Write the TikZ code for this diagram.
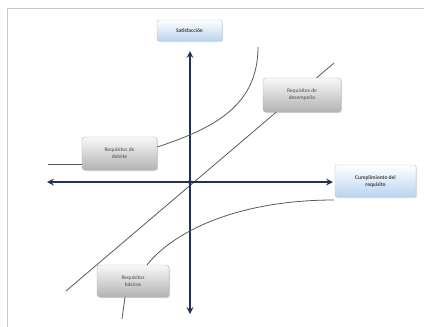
\documentclass[tikz,border=0pt]{standalone}
\usepackage{fontspec}
\setmainfont{Carlito}
\usetikzlibrary{shadows}

\definecolor{ejecolor}{RGB}{38,48,86}
\definecolor{marco}{RGB}{200,200,200}
\definecolor{celeste}{RGB}{185,212,240}

\tikzset{
    req/.style={draw=gray!60, rounded corners=3pt, top color=gray!5, bottom color=gray!60,
        drop shadow={opacity=0.35,shadow xshift=1pt,shadow yshift=-1pt},
        align=center, inner sep=1pt, text=black!70, font=\fontsize{5.5}{7}\selectfont},
    titulo/.style={draw=gray!50, rounded corners=2pt, top color=white, bottom color=celeste,
        drop shadow={opacity=0.25,shadow xshift=1pt,shadow yshift=-1pt},
        align=center, inner sep=1pt, text=black!75, font=\fontsize{5.5}{7}\selectfont\bfseries},
    eje/.style={ejecolor, line width=2pt, <->, >=stealth},
    curva/.style={gray!70!black, line width=0.8pt}
}

\begin{document}
\begin{tikzpicture}[x=1pt,y=-1pt]
    \useasboundingbox (0,0) rectangle (424,327);
    \draw [marco] (7,327) -- (7,8) -- (424,8);

    \coordinate (o)  at (190,182);
    \coordinate (xa) at (47,182);
    \coordinate (xb) at (333,182);
    \coordinate (ya) at (190,51);
    \coordinate (yb) at (190,314);
    \coordinate (l1) at (66,291);
    \coordinate (l2) at (334,63);
    \coordinate (d0) at (48,164);
    \coordinate (d1) at (258,47);
    \coordinate (b0) at (122,319);
    \coordinate (b1) at (334,200);

    \draw [curva] (l1) -- (l2);
    \draw [eje] (xa) -- (xb);
    \draw [eje] (ya) -- (yb);
    \fill [ejecolor] (o) circle (2pt);

    \node [titulo, minimum width=65pt, minimum height=21pt] (sat) at (189.5,30.5) {Satisfacción};
    \node [titulo, minimum width=81pt, minimum height=32pt] (cum) at (375.5,181) {Cumplimiento del\\requisito};
    \node [req, minimum width=78pt, minimum height=34pt] (des) at (302,95) {Requisitos de\\desempeño};
    \node [req, minimum width=75pt, minimum height=33pt] (del) at (119.5,153.5) {Requisitos de\\deleite};
    \node [req, minimum width=72pt, minimum height=32pt] (bas) at (133,281) {Requisitos\\básicos};

    \draw [curva] (d0) -- (del.west |- d0);
    \draw [curva] ([yshift=6.5pt]del.east) .. controls (215,128) and (258,105) .. (d1);
    \draw [curva] ([xshift=14pt]bas.north) .. controls (175,230) and (240,200) .. (b1);
    \draw [curva] ([xshift=-8pt]bas.south) -- (b0);
\end{tikzpicture}
\end{document}
